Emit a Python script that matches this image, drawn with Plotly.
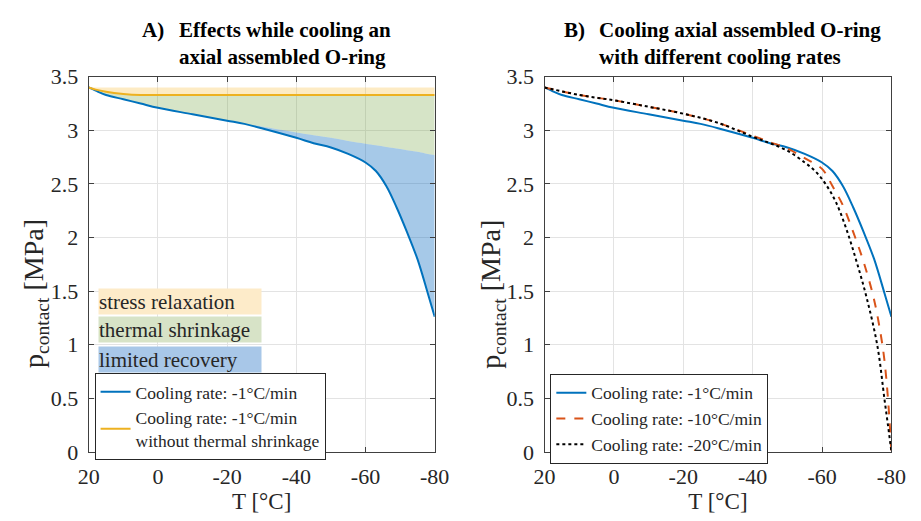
import plotly.graph_objects as go

# Temperature grid (°C) for the -1 °C/min simulation
T_A = [20, 18, 15, 10, 5, 0, -10, -20, -25, -30, -40, -45, -50, -55, -60,
       -63, -66, -69, -72, -75, -78, -80]
# Contact pressure (MPa), cooling rate -1 °C/min
p_rate1 = [3.40, 3.37, 3.33, 3.29, 3.25, 3.21, 3.15, 3.09, 3.06, 3.02, 2.93,
           2.88, 2.84, 2.78, 2.70, 2.62, 2.48, 2.28, 2.05, 1.80, 1.48, 1.26]
# Contact pressure without thermal shrinkage
p_no_shrink = [3.40, 3.38, 3.36, 3.34, 3.33, 3.33, 3.33, 3.33, 3.33, 3.33, 3.33,
               3.33, 3.33, 3.33, 3.33, 3.33, 3.33, 3.33, 3.33, 3.33, 3.33, 3.33]
# Upper bound of stress relaxation (initial pressure)
p_initial = [3.40] * len(T_A)
# Lower bound of thermal shrinkage (limit of recovery)
p_recovery = [3.40, 3.37, 3.33, 3.29, 3.25, 3.21, 3.15, 3.09, 3.06, 3.035, 2.98,
              2.955, 2.93, 2.90, 2.875, 2.86, 2.845, 2.83, 2.815, 2.80, 2.78, 2.77]

# Cooling rate -10 °C/min
T_10 = [20, 10, 0, -10, -20, -30, -40, -45, -50, -55, -60, -63, -66, -69,
        -72, -75, -77, -78, -79, -80]
p_rate10 = [3.40, 3.33, 3.28, 3.22, 3.155, 3.07, 2.95, 2.89, 2.83, 2.74, 2.64,
            2.48, 2.30, 2.05, 1.77, 1.42, 1.08, 0.85, 0.50, 0.0]
# Cooling rate -20 °C/min
T_20 = [20, 10, 0, -10, -20, -30, -40, -45, -50, -55, -58, -61, -64, -67,
        -70, -73, -76, -78, -79, -80]
p_rate20 = [3.40, 3.33, 3.28, 3.22, 3.155, 3.07, 2.94, 2.88, 2.81, 2.70, 2.62,
            2.50, 2.33, 2.08, 1.77, 1.42, 0.98, 0.49, 0.25, 0.0]

x_ticks = [20, 0, -20, -40, -60, -80]
y_ticks = [0, 0.5, 1, 1.5, 2, 2.5, 3, 3.5]
y_ticktext = ["0", "0.5", "1", "1.5", "2", "2.5", "3", "3.5"]

FONT = "Liberation Serif"
TXT = "#262626"
BLUE = "#0072BD"
ORANGE = "#EDB120"
RED = "#D95319"
FILL_YELLOW = "rgba(248,190,60,0.30)"
FILL_GREEN = "rgba(120,165,70,0.30)"
FILL_BLUE = "rgba(0,100,190,0.35)"

fig = go.Figure()

# --- Panel A: shaded effect regions ---
fig.add_trace(go.Scatter(x=T_A, y=p_initial, mode="lines", line=dict(width=0),
                         showlegend=False, hoverinfo="skip", xaxis="x", yaxis="y"))
fig.add_trace(go.Scatter(x=T_A, y=p_no_shrink, mode="lines", line=dict(width=0, shape="spline"),
                         fill="tonexty", fillcolor=FILL_YELLOW,
                         showlegend=False, hoverinfo="skip", xaxis="x", yaxis="y"))
fig.add_trace(go.Scatter(x=T_A, y=p_recovery, mode="lines", line=dict(width=0, shape="spline"),
                         fill="tonexty", fillcolor=FILL_GREEN,
                         showlegend=False, hoverinfo="skip", xaxis="x", yaxis="y"))
fig.add_trace(go.Scatter(x=T_A, y=p_rate1, mode="lines", line=dict(width=0, shape="spline"),
                         fill="tonexty", fillcolor=FILL_BLUE,
                         showlegend=False, hoverinfo="skip", xaxis="x", yaxis="y"))

# --- Panel A: curves ---
fig.add_trace(go.Scatter(x=T_A, y=p_rate1, mode="lines", name="Cooling rate: -1°C/min",
                         line=dict(color=BLUE, width=2, shape="spline"),
                         xaxis="x", yaxis="y", legend="legend"))
fig.add_trace(go.Scatter(x=T_A, y=p_no_shrink, mode="lines",
                         name="Cooling rate: -1°C/min<br>without thermal shrinkage",
                         line=dict(color=ORANGE, width=2, shape="spline"),
                         xaxis="x", yaxis="y", legend="legend"))

# --- Panel B: cooling rates ---
fig.add_trace(go.Scatter(x=T_A, y=p_rate1, mode="lines", name="Cooling rate: -1°C/min",
                         line=dict(color=BLUE, width=2, shape="spline"),
                         xaxis="x2", yaxis="y2", legend="legend2"))
fig.add_trace(go.Scatter(x=T_10, y=p_rate10, mode="lines", name="Cooling rate: -10°C/min",
                         line=dict(color=RED, width=2, dash="dash", shape="spline"),
                         xaxis="x2", yaxis="y2", legend="legend2"))
fig.add_trace(go.Scatter(x=T_20, y=p_rate20, mode="lines", name="Cooling rate: -20°C/min",
                         line=dict(color="black", width=2, dash="dot", shape="spline"),
                         xaxis="x2", yaxis="y2", legend="legend2"))

W, H = 921, 521
ytop, ybot = 68, 462
dom_y = [(H - ybot) / H, (H - ytop) / H]

axis_common = dict(showline=True, linecolor="#404040", linewidth=1, mirror="ticks",
                   ticks="inside", ticklen=5, tickcolor="#404040",
                   showgrid=True, gridcolor="#E3E3E3", gridwidth=1, zeroline=False,
                   tickfont=dict(family=FONT, size=22, color=TXT))

xcommon = dict(axis_common, range=[20, -80], tickvals=x_ticks,
               ticktext=[str(v) for v in x_ticks], ticklabelstandoff=5,
               title=dict(text="T [°C]", font=dict(family=FONT, size=23, color=TXT),
                          standoff=2))
ycommon = dict(axis_common, range=[0, 3.5], tickvals=y_ticks, ticktext=y_ticktext,
               ticklabelstandoff=5)

legend_common = dict(bgcolor="white", bordercolor=TXT, borderwidth=1,
                     font=dict(family=FONT, size=17.5, color=TXT),
                     xref="paper", yref="paper", xanchor="left", yanchor="top",
                     valign="middle", tracegroupgap=0, itemwidth=30,
                     traceorder="normal")

fig.update_layout(
    width=W, height=H,
    margin=dict(l=0, r=0, t=0, b=0),
    paper_bgcolor="white", plot_bgcolor="white",
    xaxis=dict(xcommon, domain=[80 / W, 436 / W], anchor="y"),
    yaxis=dict(ycommon, domain=dom_y, anchor="x"),
    xaxis2=dict(xcommon, domain=[549 / W, 906 / W], anchor="y2"),
    yaxis2=dict(ycommon, domain=dom_y, anchor="x2"),
    legend=dict(legend_common, x=86 / W, y=(H - 379) / H),
    legend2=dict(legend_common, x=555 / W, y=(H - 380) / H),
    showlegend=True,
)

annotations = []
# Panel titles
title_font = dict(family=FONT, size=21, color="black")
for lab, x_lab, x_txt, lines in [
    ("<b>A)</b>", 133, 171, "<b>Effects while cooling an<br>axial assembled O-ring</b>"),
    ("<b>B)</b>", 567, 603, "<b>Cooling axial assembled O-ring<br>with different cooling rates</b>"),
]:
    annotations.append(dict(text=lab, x=x_lab / W, y=(H - 4) / H, xref="paper", yref="paper",
                            xanchor="left", yanchor="top", showarrow=False, font=title_font))
    annotations.append(dict(text=lines, x=x_txt / W, y=(H - 4) / H, xref="paper", yref="paper",
                            xanchor="left", yanchor="top", align="left", showarrow=False,
                            font=title_font))

# y-axis titles
ytitle = "p<sub>contact</sub> [MPa]"
for x_pos in [26, 496]:
    annotations.append(dict(text=ytitle, x=x_pos / W, y=(H - 296) / H,
                            xref="paper", yref="paper", xanchor="center", yanchor="middle",
                            textangle=-90, showarrow=False,
                            font=dict(family=FONT, size=28, color=TXT)))

# Labels for the shaded regions
for txt, color, yc in [("stress relaxation", "#FDEBC9", 304),
                       ("thermal shrinkage", "#D7E3C7", 334),
                       ("limited recovery", "#A8C7E8", 364.5)]:
    annotations.append(dict(text=txt, x=90 / W, y=(H - yc) / H, xref="paper", yref="paper",
                            xanchor="left", yanchor="middle", align="left", showarrow=False,
                            width=162, height=25, borderpad=0, bgcolor=color,
                            font=dict(family=FONT, size=21, color=TXT)))

fig.update_layout(annotations=annotations)

fig.write_html("out.html")
